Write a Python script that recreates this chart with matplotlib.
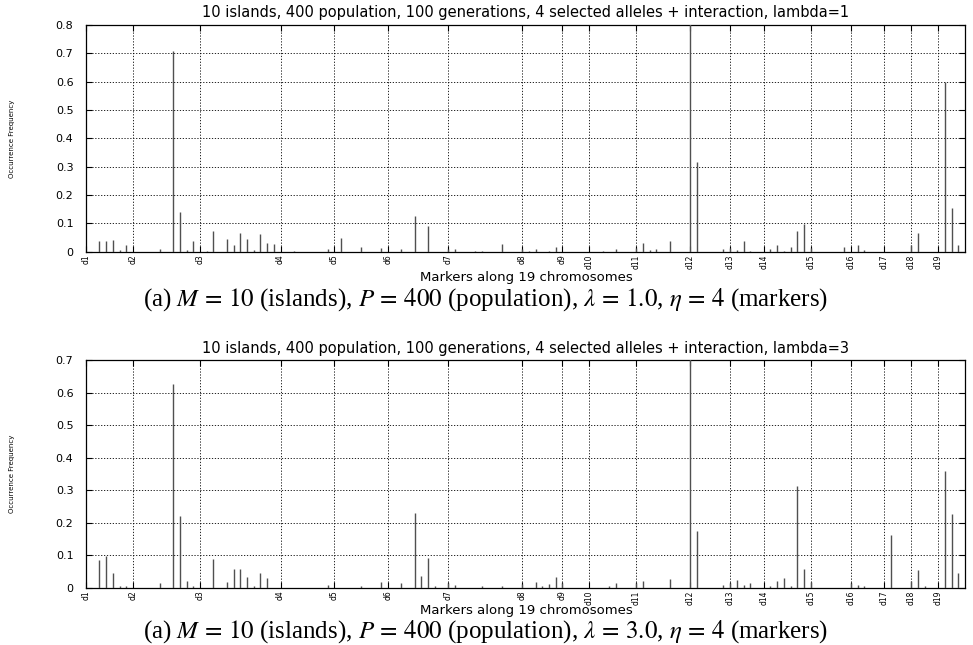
import matplotlib
matplotlib.use('Agg')
import matplotlib.pyplot as plt
import numpy as np

plt.rcParams['mathtext.fontset'] = 'stix'

# chromosome boundaries (first marker index of each chromosome)
chrom_labels = ['d%d' % i for i in range(1, 20)]
chrom_starts = [1, 8, 18, 30, 38, 46, 55, 66, 72, 76, 83, 91, 97, 102, 109, 115, 120, 124, 128]

# lambda = 1
markers_a = [3, 4, 5, 6, 7, 12, 14, 15, 16, 17, 19, 20, 22, 23, 24, 25, 26, 27, 28, 29,
             32, 37, 39, 42, 45, 48, 50, 52, 55, 56, 59, 60, 63, 66, 67, 68, 70, 71, 78,
             80, 83, 84, 85, 86, 88, 91, 92, 96, 97, 98, 99, 100, 103, 104, 105, 106, 107,
             108, 109, 114, 116, 117, 124, 125, 129, 130, 131]
freq_a = [0.036, 0.039, 0.042, 0.005, 0.024, 0.010, 0.708, 0.140, 0.006, 0.039, 0.002,
          0.073, 0.044, 0.025, 0.065, 0.044, 0.006, 0.063, 0.031, 0.027, 0.002, 0.008,
          0.049, 0.015, 0.012, 0.008, 0.127, 0.091, 0.011, 0.008, 0.002, 0.002, 0.027,
          0.010, 0.002, 0.008, 0.002, 0.017, 0.002, 0.010, 0.012, 0.032, 0.006, 0.008,
          0.039, 1.0, 0.318, 0.008, 0.012, 0.005, 0.039, 0.002, 0.009, 0.024, 0.003,
          0.017, 0.073, 0.099, 0.012, 0.015, 0.024, 0.006, 0.024, 0.065, 0.600, 0.153,
          0.024]

# lambda = 3
markers_b = [3, 4, 5, 6, 7, 12, 14, 15, 16, 17, 20, 22, 23, 24, 25, 26, 27, 28, 37, 42,
             45, 48, 50, 51, 52, 53, 55, 56, 60, 63, 66, 68, 69, 70, 71, 72, 79, 80, 83,
             84, 88, 91, 92, 96, 97, 98, 99, 100, 103, 104, 105, 106, 107, 108, 109, 115,
             116, 117, 121, 124, 125, 126, 129, 130, 131]
freq_b = [0.085, 0.097, 0.046, 0.004, 0.004, 0.013, 0.626, 0.220, 0.020, 0.005, 0.087,
          0.018, 0.057, 0.057, 0.034, 0.004, 0.044, 0.029, 0.007, 0.005, 0.018, 0.014,
          0.229, 0.036, 0.090, 0.004, 0.013, 0.008, 0.004, 0.004, 0.010, 0.017, 0.004,
          0.011, 0.033, 0.015, 0.004, 0.013, 0.014, 0.020, 0.027, 1.0, 0.174, 0.008,
          0.014, 0.024, 0.007, 0.014, 0.004, 0.020, 0.030, 0.004, 0.314, 0.057, 0.017,
          0.015, 0.008, 0.004, 0.162, 0.020, 0.054, 0.004, 0.360, 0.228, 0.046]

title_a = '10 islands, 400 population, 100 generations, 4 selected alleles + interaction, lambda=1'
title_b = '10 islands, 400 population, 100 generations, 4 selected alleles + interaction, lambda=3'
cap_a = r'(a) $M\,=\,10$ (islands), $P\,=\,400$ (population), $\lambda\,=\,1.0$, $\eta\,=\,4$ (markers)'
cap_b = r'(a) $M\,=\,10$ (islands), $P\,=\,400$ (population), $\lambda\,=\,3.0$, $\eta\,=\,4$ (markers)'

W, H = 973, 645
fig = plt.figure(figsize=(W / 100, H / 100), dpi=100)


def panel(top_px, bot_px, xlab_px, cap_px, markers, freqs, ymax, title, caption):
    ax = fig.add_axes([86 / W, 1 - bot_px / H, 879 / W, (bot_px - top_px) / H])
    ax.vlines(markers, 0, freqs, color='#505050', lw=1.0, zorder=3)
    ax.set_xlim(1, 132)
    ax.set_ylim(0, ymax)
    ax.set_xticks(chrom_starts)
    ax.set_xticklabels(chrom_labels, rotation=90, fontsize=5.5)
    yt = np.round(np.arange(0, ymax + 0.001, 0.1), 1)
    ax.set_yticks(yt)
    ax.set_yticklabels(['0' if v == 0 else '%.1f' % v for v in yt], fontsize=8)
    ax.grid(True, color='k', linestyle=(0, (1.5, 2)), lw=0.6)
    ax.tick_params(direction='in', length=4, right=True, top=True, pad=9, width=0.8)
    ax.tick_params(axis='x', pad=2)
    for s in ax.spines.values():
        s.set_linewidth(0.9)
    fig.text(0.5 * (86 + 965) / W, 1 - (top_px - 12) / H, title, fontsize=10.5,
             ha='center', va='center')
    fig.text(12 / W, 1 - (top_px + bot_px) / 2 / H, 'Occurrence Frequency',
             rotation=90, fontsize=5, ha='center', va='center',
             family=['Liberation Sans Narrow', 'DejaVu Sans'])
    fig.text(526 / W, 1 - xlab_px / H, 'Markers along 19 chromosomes',
             fontsize=9.5, ha='center', va='center')
    fig.text(486 / W, 1 - cap_px / H, caption, fontsize=18,
             ha='center', va='center', family='Liberation Serif')
    return ax


panel(25, 251.7, 277, 300, markers_a, freq_a, 0.8, title_a, cap_a)
panel(360, 587.7, 610.5, 632, markers_b, freq_b, 0.7, title_b, cap_b)

fig.savefig('out.png', dpi=100)
